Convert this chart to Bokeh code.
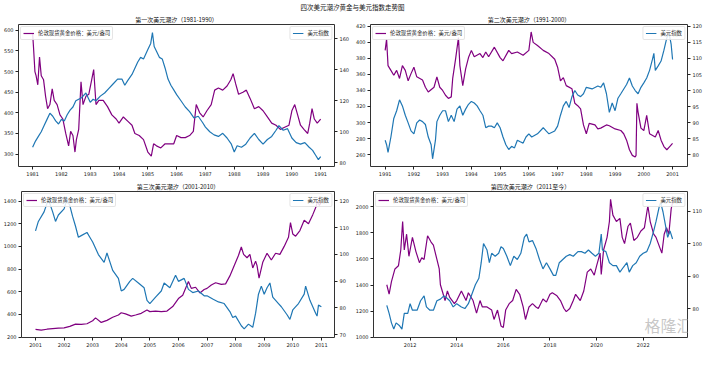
from bokeh.plotting import figure
from bokeh.models import (Range1d, LinearAxis, Legend, LegendItem, FixedTicker, Label)
from bokeh.layouts import column, row
from bokeh.embed import file_html
from bokeh.resources import INLINE

MAIN_TITLE = "四次美元潮汐黄金与美元指数走势图"
TITLES = ["第一次美元潮汐（1981-1990）", "第二次美元潮汐（1991-2000）",
          "第三次美元潮汐（2001-2010）", "第四次美元潮汐（2011至今）"]
GOLD_LABEL = "伦敦现货黄金价格：美元/盎司"
DXY_LABEL = "美元指数"
WATERMARK = "格隆汇"

# ---------------- Panel 1 (1981-1990) ----------------
g1_t = [1981.0, 1981.03, 1981.08, 1981.12, 1981.18, 1981.24, 1981.3, 1981.38, 1981.45, 1981.52,
        1981.6, 1981.68, 1981.75, 1981.85, 1981.95, 1982.05, 1982.15, 1982.25, 1982.32, 1982.4,
        1982.47, 1982.52, 1982.6, 1982.68, 1982.75, 1982.85, 1982.95, 1983.05, 1983.12, 1983.2,
        1983.3, 1983.45, 1983.6, 1983.75, 1983.9, 1984.0, 1984.15, 1984.3, 1984.45, 1984.55,
        1984.7, 1984.85, 1985.0, 1985.12, 1985.2, 1985.3, 1985.45, 1985.6, 1985.75, 1985.9,
        1986.0, 1986.15, 1986.3, 1986.45, 1986.58, 1986.68, 1986.8, 1986.92, 1987.05, 1987.2,
        1987.32, 1987.45, 1987.6, 1987.75, 1987.88, 1987.96, 1988.05, 1988.15, 1988.3, 1988.42,
        1988.55, 1988.7, 1988.85, 1989.0, 1989.15, 1989.3, 1989.45, 1989.6, 1989.75, 1989.9,
        1990.0, 1990.1, 1990.2, 1990.3, 1990.42, 1990.55, 1990.62, 1990.7, 1990.78, 1990.88, 1991.0]
g1_v = [593, 560, 500, 490, 468, 535, 490, 480, 440, 410,
        420, 458, 430, 420, 395, 385, 350, 320, 355, 345,
        305, 335, 360, 475, 420, 440, 445, 480, 505, 420,
        430, 430, 415, 395, 385, 375, 390, 380, 370, 350,
        345, 335, 305, 295, 325, 320, 315, 325, 325, 325,
        345, 340, 340, 345, 355, 420, 400, 390, 405, 420,
        455, 460, 455, 465, 480, 495, 470, 445, 450, 455,
        435, 410, 415, 405, 390, 375, 370, 360, 365, 370,
        405, 420, 395, 370, 360, 350, 375, 410, 385, 375, 385]
d1_t = [1981.0, 1981.1, 1981.2, 1981.3, 1981.4, 1981.5, 1981.6, 1981.7, 1981.8, 1981.9,
        1982.0, 1982.1, 1982.2, 1982.3, 1982.4, 1982.5, 1982.6, 1982.7, 1982.85, 1983.0,
        1983.1, 1983.2, 1983.35, 1983.5, 1983.65, 1983.8, 1983.95, 1984.1, 1984.2, 1984.3,
        1984.45, 1984.55, 1984.65, 1984.75, 1984.85, 1985.0, 1985.1, 1985.16, 1985.22, 1985.3,
        1985.4, 1985.5, 1985.6, 1985.7, 1985.8, 1985.9, 1986.0, 1986.15, 1986.3, 1986.45,
        1986.6, 1986.75, 1986.9, 1987.0, 1987.15, 1987.3, 1987.45, 1987.6, 1987.75, 1987.9,
        1988.0, 1988.1, 1988.25, 1988.4, 1988.55, 1988.7, 1988.85, 1989.0, 1989.15, 1989.3,
        1989.45, 1989.55, 1989.7, 1989.85, 1990.0, 1990.15, 1990.3, 1990.45, 1990.6, 1990.72,
        1990.82, 1990.92, 1991.0]
d1_v = [90, 94, 97, 100, 104, 108, 112, 110, 107, 105,
        108, 107, 111, 114, 116, 120, 121, 122, 125, 119,
        121, 120, 123, 125, 128, 131, 134, 134, 130, 133,
        137, 141, 145, 148, 147, 153, 157, 164, 155, 152,
        148, 147, 141, 134, 130, 127, 124, 120, 116, 113,
        109, 110, 106, 103, 100, 98, 97, 99, 96, 92,
        87, 91, 90, 92, 96, 99, 95, 92, 95, 97,
        101, 104, 101, 102, 96, 93, 92, 93, 90, 88,
        85, 82, 84]

# ---------------- Panel 2 (1991-2000) ----------------
g2_t = [1991.0, 1991.05, 1991.1, 1991.2, 1991.3, 1991.4, 1991.5, 1991.6, 1991.7, 1991.8,
        1991.9, 1992.0, 1992.1, 1992.3, 1992.4, 1992.5, 1992.7, 1992.8, 1992.9, 1993.0,
        1993.1, 1993.2, 1993.3, 1993.35, 1993.45, 1993.55, 1993.6, 1993.7, 1993.8, 1993.9,
        1994.0, 1994.1, 1994.3, 1994.4, 1994.5, 1994.6, 1994.8, 1995.0, 1995.1, 1995.3,
        1995.4, 1995.6, 1995.8, 1996.0, 1996.08, 1996.15, 1996.3, 1996.5, 1996.7, 1996.9,
        1997.0, 1997.1, 1997.2, 1997.3, 1997.5, 1997.6, 1997.7, 1997.8, 1997.9, 1998.0,
        1998.1, 1998.3, 1998.4, 1998.5, 1998.7, 1998.8, 1999.0, 1999.2, 1999.3, 1999.4,
        1999.5, 1999.6, 1999.7, 1999.73, 1999.76, 1999.8, 1999.9, 2000.0, 2000.1, 2000.2,
        2000.4, 2000.5, 2000.6, 2000.7, 2000.8, 2000.9, 2001.0]
g2_v = [390, 404, 371, 365, 359, 365, 355, 371, 365, 352,
        361, 369, 357, 353, 344, 338, 344, 357, 344, 340,
        334, 330, 332, 355, 379, 406, 371, 346, 367, 381,
        390, 382, 386, 381, 388, 382, 394, 381, 377, 390,
        386, 388, 384, 390, 413, 400, 396, 390, 386, 379,
        369, 352, 356, 346, 342, 324, 321, 317, 297, 286,
        299, 297, 292, 293, 297, 296, 292, 290, 286, 278,
        266, 259, 257, 259, 324, 313, 293, 290, 309, 286,
        282, 290, 278, 270, 266, 270, 274]
d2_t = [1991.0, 1991.05, 1991.1, 1991.2, 1991.3, 1991.4, 1991.5, 1991.6, 1991.7, 1991.8,
        1991.9, 1992.0, 1992.1, 1992.2, 1992.3, 1992.4, 1992.5, 1992.6, 1992.65, 1992.75,
        1992.8, 1992.9, 1993.0, 1993.1, 1993.2, 1993.3, 1993.4, 1993.5, 1993.6, 1993.7,
        1993.8, 1993.9, 1994.0, 1994.1, 1994.2, 1994.3, 1994.4, 1994.5, 1994.6, 1994.7,
        1994.8, 1994.9, 1995.0, 1995.1, 1995.2, 1995.3, 1995.4, 1995.5, 1995.6, 1995.7,
        1995.8, 1995.9, 1996.0, 1996.1, 1996.3, 1996.5, 1996.6, 1996.7, 1996.9, 1997.0,
        1997.1, 1997.2, 1997.3, 1997.4, 1997.5, 1997.6, 1997.7, 1997.8, 1997.9, 1998.0,
        1998.2, 1998.4, 1998.5, 1998.6, 1998.7, 1998.8, 1998.9, 1999.0, 1999.1, 1999.2,
        1999.4, 1999.5, 1999.6, 1999.7, 1999.8, 1999.9, 2000.0, 2000.1, 2000.2, 2000.3,
        2000.35, 2000.4, 2000.5, 2000.6, 2000.7, 2000.8, 2000.85, 2000.9, 2000.95, 2001.0]
d2_v = [84.5, 83.1, 80.7, 85.5, 91.3, 93.7, 97.1, 95.2, 92.3, 89.9,
        87.4, 86.5, 89.9, 90.8, 90.3, 89.4, 85.5, 83.1, 78.7, 84.5,
        90.3, 92.3, 93.7, 93.7, 90.3, 92.3, 90.3, 94.2, 95.2, 92.3,
        94.2, 95.7, 96.6, 96.1, 95.2, 93.7, 92.3, 88.4, 88.9, 88.9,
        88.4, 89.9, 88.4, 85.5, 83.1, 81.6, 82.6, 82.1, 84.5, 84.0,
        83.6, 85.5, 86.5, 85.5, 86.5, 88.4, 87.4, 86.5, 87.4, 88.9,
        92.3, 95.2, 96.6, 94.7, 98.1, 100.0, 98.6, 98.1, 99.0, 101.0,
        100.5, 101.4, 101.0, 102.4, 99.0, 93.2, 96.1, 93.7, 97.6, 99.0,
        101.9, 103.9, 101.4, 100.0, 99.0, 101.0, 102.4, 103.9, 106.3, 109.7,
        111.6, 106.3, 107.7, 109.2, 112.6, 116.4, 117.4, 116.9, 114.5, 109.7]

# ---------------- Panel 3 (2001-2010) ----------------
g3_t = [2001.0, 2001.2, 2001.4, 2001.6, 2001.8, 2002.0, 2002.2, 2002.4, 2002.6, 2002.8,
        2003.0, 2003.1, 2003.3, 2003.5, 2003.7, 2003.9, 2004.0, 2004.15, 2004.35, 2004.5,
        2004.7, 2004.9, 2005.0, 2005.2, 2005.4, 2005.6, 2005.8, 2006.0, 2006.15, 2006.35,
        2006.45, 2006.6, 2006.75, 2006.9, 2007.0, 2007.15, 2007.3, 2007.5, 2007.65, 2007.8,
        2007.95, 2008.1, 2008.2, 2008.28, 2008.4, 2008.5, 2008.6, 2008.7, 2008.75, 2008.82,
        2008.95, 2009.1, 2009.25, 2009.4, 2009.55, 2009.7, 2009.85, 2009.92, 2010.0, 2010.1,
        2010.25, 2010.4, 2010.55, 2010.7, 2010.8, 2010.87, 2010.93, 2011.0]
g3_v = [268, 262, 270, 275, 280, 282, 295, 315, 312, 318,
        345, 370, 330, 348, 375, 395, 415, 405, 385, 395,
        410, 440, 425, 430, 425, 430, 470, 540, 570, 690,
        630, 640, 590, 620, 630, 660, 680, 665, 670, 740,
        830, 920, 995, 930, 900, 930, 810, 870, 830, 720,
        860, 940, 880, 940, 930, 1000, 1080, 1210, 1110, 1090,
        1140, 1230, 1200, 1280, 1340, 1400, 1360, 1390]
d3_t = [2001.0, 2001.1, 2001.3, 2001.45, 2001.6, 2001.7, 2001.8, 2002.0, 2002.1, 2002.2,
        2002.3, 2002.4, 2002.5, 2002.6, 2002.8, 2002.9, 2003.0, 2003.2, 2003.4, 2003.5,
        2003.7, 2003.9, 2004.0, 2004.1, 2004.3, 2004.4, 2004.6, 2004.8, 2004.9, 2005.0,
        2005.2, 2005.4, 2005.5, 2005.7, 2005.9, 2006.0, 2006.2, 2006.35, 2006.5, 2006.7,
        2006.9, 2007.0, 2007.2, 2007.4, 2007.6, 2007.8, 2007.9, 2008.0, 2008.2, 2008.3,
        2008.45, 2008.6, 2008.7, 2008.8, 2008.9, 2009.0, 2009.1, 2009.2, 2009.3, 2009.5,
        2009.6, 2009.8, 2009.9, 2010.0, 2010.2, 2010.4, 2010.45, 2010.6, 2010.8, 2010.85,
        2010.9, 2011.0]
d3_v = [108.8, 112.3, 115.9, 120.6, 115.9, 112.3, 114.7, 117.0, 120.6, 118.2,
        114.1, 110.5, 106.4, 107.0, 108.2, 106.4, 104.6, 99.9, 97.0, 100.5,
        94.0, 91.0, 86.3, 86.9, 89.9, 91.0, 89.3, 87.5, 82.8, 81.6,
        84.0, 86.3, 89.3, 87.5, 92.2, 89.9, 91.0, 86.9, 85.7, 86.3,
        84.5, 84.5, 83.3, 82.2, 81.6, 78.6, 76.4, 76.9, 73.3, 72.1,
        73.9, 72.7, 78.0, 85.1, 88.1, 85.1, 87.5, 89.3, 84.0, 81.6,
        80.4, 77.4, 75.7, 79.2, 81.6, 85.1, 88.1, 82.8, 78.0, 76.9,
        81.0, 80.4]

# ---------------- Panel 4 (2011-) ----------------
g4_t = [2011.0, 2011.1, 2011.2, 2011.35, 2011.5, 2011.6, 2011.68, 2011.75, 2011.85, 2011.95,
        2012.1, 2012.25, 2012.4, 2012.5, 2012.6, 2012.75, 2012.9, 2013.0, 2013.15, 2013.25,
        2013.3, 2013.5, 2013.6, 2013.7, 2013.9, 2014.0, 2014.2, 2014.4, 2014.5, 2014.7,
        2014.85, 2015.0, 2015.1, 2015.3, 2015.5, 2015.6, 2015.75, 2015.9, 2016.0, 2016.1,
        2016.25, 2016.4, 2016.55, 2016.7, 2016.85, 2016.95, 2017.1, 2017.25, 2017.4, 2017.5,
        2017.7, 2017.85, 2018.0, 2018.1, 2018.3, 2018.45, 2018.6, 2018.7, 2018.85, 2019.0,
        2019.1, 2019.3, 2019.45, 2019.6, 2019.75, 2019.9, 2020.0, 2020.15, 2020.2, 2020.3,
        2020.45, 2020.55, 2020.6, 2020.7, 2020.85, 2021.0, 2021.1, 2021.2, 2021.35, 2021.45,
        2021.6, 2021.75, 2021.9, 2022.05, 2022.2, 2022.3, 2022.45, 2022.55, 2022.7, 2022.8,
        2022.9, 2023.0, 2023.1, 2023.2, 2023.26]
g4_v = [1402, 1330, 1426, 1523, 1547, 1668, 1886, 1668, 1789, 1620,
        1765, 1656, 1571, 1608, 1596, 1777, 1729, 1705, 1596, 1523,
        1402, 1281, 1354, 1305, 1257, 1281, 1354, 1281, 1341, 1281,
        1184, 1281, 1232, 1232, 1208, 1136, 1208, 1087, 1075, 1208,
        1257, 1281, 1366, 1329, 1232, 1136, 1232, 1257, 1232, 1220,
        1293, 1269, 1329, 1341, 1317, 1281, 1220, 1196, 1220, 1281,
        1329, 1281, 1354, 1499, 1523, 1475, 1547, 1644, 1480, 1668,
        1765, 1886, 2056, 1935, 1886, 1910, 1765, 1717, 1850, 1874,
        1741, 1765, 1814, 1838, 2007, 1886, 1789, 1765, 1692, 1644,
        1789, 1838, 1789, 1983, 2031]
d4_t = [2011.0, 2011.1, 2011.2, 2011.3, 2011.4, 2011.55, 2011.65, 2011.75, 2011.9, 2012.0,
        2012.1, 2012.3, 2012.45, 2012.6, 2012.7, 2012.85, 2013.0, 2013.15, 2013.3, 2013.45,
        2013.55, 2013.7, 2013.85, 2014.0, 2014.2, 2014.35, 2014.5, 2014.65, 2014.8, 2014.95,
        2015.05, 2015.15, 2015.3, 2015.4, 2015.5, 2015.65, 2015.8, 2015.9, 2016.0, 2016.15,
        2016.3, 2016.45, 2016.6, 2016.75, 2016.9, 2017.0, 2017.1, 2017.25, 2017.4, 2017.55,
        2017.7, 2017.85, 2018.0, 2018.15, 2018.25, 2018.4, 2018.55, 2018.7, 2018.85, 2019.0,
        2019.2, 2019.35, 2019.5, 2019.65, 2019.8, 2019.95, 2020.1, 2020.2, 2020.25, 2020.4,
        2020.55, 2020.7, 2020.85, 2021.0, 2021.15, 2021.3, 2021.4, 2021.55, 2021.7, 2021.85,
        2022.0, 2022.15, 2022.3, 2022.45, 2022.55, 2022.7, 2022.75, 2022.85, 2022.95, 2023.05,
        2023.15, 2023.26]
d4_v = [81.0, 78.5, 75.6, 73.7, 75.6, 74.7, 73.7, 78.5, 78.5, 81.5,
        79.5, 79.5, 82.4, 83.9, 80.5, 79.5, 79.5, 82.4, 82.9, 83.9,
        83.4, 82.4, 80.5, 81.5, 80.5, 80.0, 81.5, 84.4, 87.3, 89.3,
        94.1, 100.0, 98.0, 94.1, 97.0, 96.1, 97.0, 99.0, 98.5, 96.1,
        93.2, 96.1, 95.1, 97.0, 101.9, 102.9, 100.5, 100.9, 98.5, 95.1,
        92.2, 94.1, 92.2, 90.2, 90.2, 94.1, 95.1, 96.1, 96.6, 96.1,
        97.5, 97.5, 97.0, 98.0, 97.0, 96.1, 97.0, 102.9, 98.0, 97.5,
        94.1, 93.2, 93.2, 91.2, 92.7, 94.1, 91.2, 93.2, 94.1, 96.1,
        97.0, 97.5, 100.0, 103.9, 106.8, 111.7, 112.6, 109.7, 105.8, 101.9,
        103.9, 101.4]

# axis ranges and ticks per panel
PANELS = [
    dict(title=TITLES[0], gt=g1_t, gv=g1_v, dt=d1_t, dv=d1_v,
         xr=(1980.51, 1991.48), yl=(270, 614), yr=(77.6, 169.2),
         xt=list(range(1981, 1992)), lt=list(range(300, 601, 50)), rt=list(range(80, 161, 20))),
    dict(title=TITLES[1], gt=g2_t, gv=g2_v, dt=d2_t, dv=d2_v,
         xr=(1990.49, 2001.52), yl=(245.1, 422.3), yr=(76.3, 120.6),
         xt=list(range(1991, 2002)), lt=list(range(260, 421, 20)), rt=list(range(80, 121, 5))),
    dict(title=TITLES[2], gt=g3_t, gv=g3_v, dt=d3_t, dv=d3_v,
         xr=(2000.51, 2011.46), yl=(197, 1484), yr=(68.9, 123.5),
         xt=list(range(2001, 2012)), lt=list(range(200, 1401, 200)), rt=list(range(70, 121, 10))),
    dict(title=TITLES[3], gt=g4_t, gv=g4_v, dt=d4_t, dv=d4_v,
         xr=(2010.43, 2023.9), yl=(998, 2116), yr=(71.1, 116.0),
         xt=list(range(2012, 2023, 2)), lt=list(range(1000, 2001, 200)), rt=list(range(80, 111, 10))),
]

GOLD_C = "#800080"
DXY_C = "#1f77b4"
CJK = "Noto Sans CJK SC"
TICK_FONT = "DejaVu Sans"


def style_axis(ax, ticks):
    ax.ticker = FixedTicker(ticks=ticks)
    ax.axis_line_color = None
    ax.major_tick_line_color = "#222222"
    ax.major_tick_out = 3
    ax.major_tick_in = 0
    ax.minor_tick_line_color = None
    ax.major_label_text_font = TICK_FONT
    ax.major_label_text_font_size = "5px"
    ax.major_label_text_color = "#222222"
    ax.major_label_standoff = 2


def make_panel(cfg, width, height, bl, br, bt, bb):
    p = figure(width=width, height=height, toolbar_location=None, output_backend="svg",
               x_range=Range1d(*cfg["xr"]), y_range=Range1d(*cfg["yl"]),
               min_border_left=bl, min_border_right=br, min_border_top=bt, min_border_bottom=bb)
    p.extra_y_ranges = {"dxy": Range1d(*cfg["yr"])}
    p.title.text = cfg["title"]
    p.title.align = "center"
    p.title.text_font = CJK
    p.title.text_font_size = "6px"
    p.title.text_font_style = "normal"
    p.title.text_color = "#111111"
    p.title.standoff = 1
    p.grid.visible = False
    p.outline_line_color = "#333333"
    p.outline_line_width = 1
    p.background_fill_color = "white"
    p.border_fill_color = "white"
    style_axis(p.xaxis[0], cfg["xt"])
    style_axis(p.yaxis[0], cfg["lt"])
    rax = LinearAxis(y_range_name="dxy")
    style_axis(rax, cfg["rt"])
    p.add_layout(rax, "right")

    rg = p.line(cfg["gt"], cfg["gv"], line_color=GOLD_C, line_width=1.2)
    rd = p.line(cfg["dt"], cfg["dv"], line_color=DXY_C, line_width=1.2, y_range_name="dxy")

    for items, loc in (([LegendItem(label=GOLD_LABEL, renderers=[rg])], "top_left"),
                       ([LegendItem(label=DXY_LABEL, renderers=[rd])], "top_right")):
        lg = Legend(items=items, location=loc)
        lg.label_text_font = CJK
        lg.label_text_font_size = "5.4px"
        lg.label_text_color = "#222222"
        lg.label_height = 6
        lg.label_standoff = 4
        lg.glyph_width = 11
        lg.glyph_height = 6
        lg.padding = 2
        lg.spacing = 0
        lg.margin = 2
        lg.border_line_color = "#cccccc"
        lg.border_line_width = 1
        lg.border_radius = 2
        lg.background_fill_alpha = 0.85
        p.add_layout(lg)
    return p


head = figure(width=705, height=12, toolbar_location=None, output_backend="svg",
              x_range=Range1d(0, 1), y_range=Range1d(0, 1),
              x_axis_location=None, y_axis_location=None,
              min_border_left=0, min_border_right=0, min_border_top=0, min_border_bottom=0)
head.outline_line_color = None
head.grid.visible = False
head.add_layout(Label(x=352, y=6, x_units="screen", y_units="screen", text=MAIN_TITLE,
                      text_align="center", text_baseline="middle", text_font=CJK,
                      text_font_size="6.5px", text_color="#111111"))

p1 = make_panel(PANELS[0], 352, 166, 17, 16, 11, 12)
p2 = make_panel(PANELS[1], 353, 166, 17, 15, 11, 12)
p3 = make_panel(PANELS[2], 352, 171, 17, 16, 13, 12)
p4 = make_panel(PANELS[3], 353, 171, 17, 15, 13, 12)

# watermark, kept inside the frame of the last panel (bottom-right corner)
p4.add_layout(Label(x=319, y=1, x_units="screen", y_units="screen", text=WATERMARK,
                    text_align="right", text_baseline="bottom", text_font=CJK,
                    text_font_size="16px", text_color="#b5b5b5", text_alpha=0.75))

layout = column(head, row(p1, p2), row(p3, p4))
open("out.html", "w").write(file_html(layout, INLINE))
